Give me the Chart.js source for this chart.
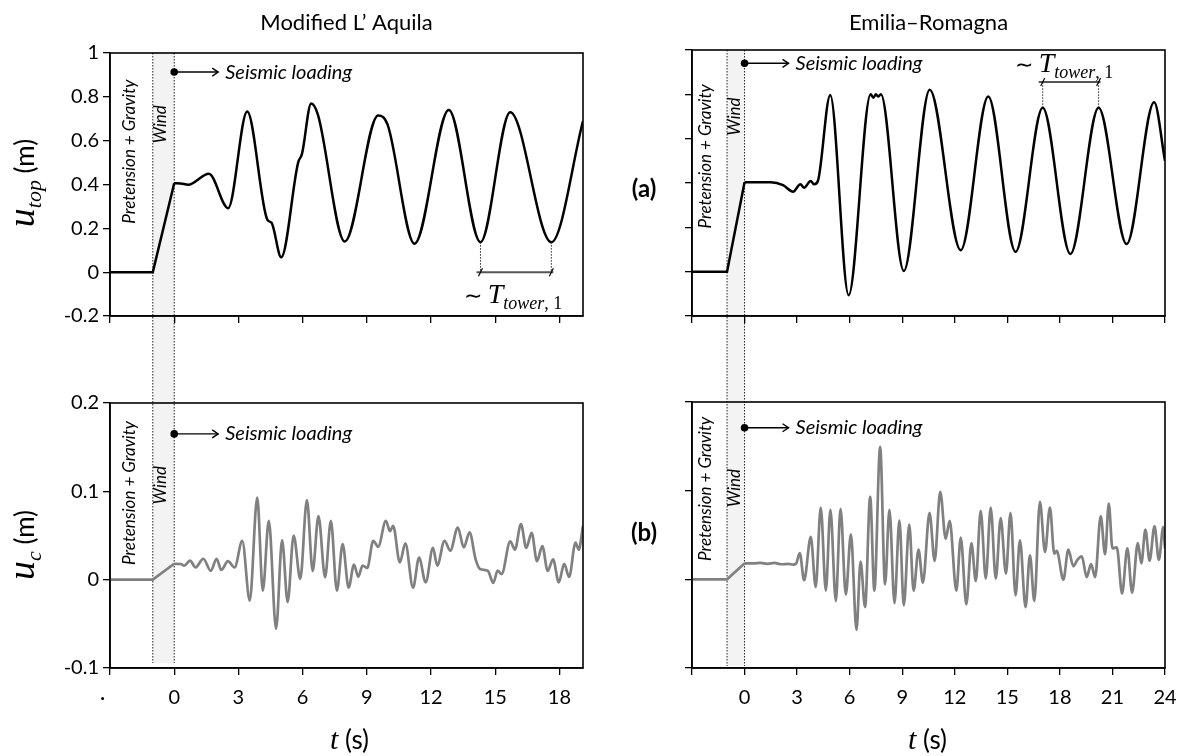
<!DOCTYPE html>
<html>
<head>
<meta charset="utf-8">
<script src="https://cdn.jsdelivr.net/npm/chart.js@4.4.1/dist/chart.umd.min.js"></script>
<style>
  html, body { margin: 0; padding: 0; background: #fff; }
  #wrap { position: relative; width: 1189px; height: 756px; }
  #wrap canvas { position: absolute; left: 0; top: 0; }
</style>
</head>
<body>
<div id="wrap">
  <canvas id="aqTop" width="1189" height="756"></canvas>
  <canvas id="erTop" width="1189" height="756"></canvas>
  <canvas id="aqCab" width="1189" height="756"></canvas>
  <canvas id="erCab" width="1189" height="756"></canvas>
</div>
<script>
// ---- data ----
// Modified L'Aquila, tower top displacement u_top (m)
const aqTopT = [-3, -1, 0, 0.3, 0.65, 1.62, 2.52, 3.41, 4.35, 4.55, 5.0, 5.79, 5.97, 6.4, 6.71, 7.97, 9.53, 9.97, 11.23, 12.83, 14.31, 15.7, 17.62, 19.1];
const aqTopU = [0, 0, 0.406, 0.405, 0.399, 0.449, 0.292, 0.733, 0.24, 0.225, 0.068, 0.5, 0.54, 0.77, 0.72, 0.14, 0.715, 0.673, 0.13, 0.74, 0.137, 0.73, 0.137, 0.69];

// Emilia-Romagna, tower top displacement u_top (m)
const erTopT = [-3, -1, 0, 1.5, 2.2, 2.77, 3.19, 3.4, 3.77, 3.98, 4.19, 4.89, 5.94, 7.2, 7.35, 7.5, 7.62, 7.78, 9.09, 10.57, 12.34, 13.91, 15.47, 17.02, 18.6, 20.21, 21.81, 23.38, 24];
const erTopU = [0, 0, 0.403, 0.403, 0.39, 0.361, 0.394, 0.379, 0.409, 0.394, 0.41, 0.797, -0.106, 0.8, 0.785, 0.8, 0.79, 0.8, 0.003, 0.821, 0.097, 0.79, 0.09, 0.739, 0.08, 0.739, 0.125, 0.764, 0.5];

// Modified L'Aquila, cable displacement u_c (m)
const aqCabT = [-3, -1, 0, 0.31, 0.47, 0.74, 1.0, 1.36, 1.71, 1.98, 2.2, 2.51, 2.82, 3.18, 3.53, 3.88, 4.14, 4.42, 4.76, 5.04, 5.3, 5.58, 5.89, 6.2, 6.47, 6.74, 7.05, 7.32, 7.6, 7.87, 8.15, 8.4, 8.6, 8.8, 9.02, 9.3, 9.53, 9.89, 10.08, 10.23, 10.54, 10.8, 11.16, 11.44, 11.75, 12.09, 12.29, 12.63, 12.9, 13.25, 13.53, 13.8, 14.08, 14.29, 14.65, 14.91, 15.11, 15.3, 15.7, 15.92, 16.2, 16.45, 16.7, 16.95, 17.2, 17.45, 17.7, 17.97, 18.22, 18.45, 18.75, 18.9, 19.1];
const aqCabU = [0, 0, 0.018, 0.0177, 0.016, 0.0215, 0.014, 0.0237, 0.010, 0.0237, 0.011, 0.021, 0.0138, 0.044, -0.0237, 0.093, -0.0124, 0.0667, -0.0557, 0.0447, -0.0252, 0.050, 0.0008, 0.090, 0.010, 0.072, 0.0027, 0.0667, -0.0124, 0.0403, -0.009, 0.017, 0.0033, 0.016, 0.0132, 0.044, 0.0373, 0.0667, 0.055, 0.061, 0.0196, 0.041, -0.009, 0.025, -0.0031, 0.036, 0.016, 0.044, 0.0328, 0.059, 0.0365, 0.0535, 0.0233, 0.0121, 0.0102, -0.0037, 0.0102, 0.0064, 0.0433, 0.034, 0.063, 0.036, 0.053, 0.021, 0.038, 0.010, 0.023, -0.003, 0.018, 0.003, 0.042, 0.034, 0.061];

// Emilia-Romagna, cable displacement u_c (m)
const erCabT = [-3, -1, 0, 0.5, 0.9, 1.3, 1.7, 2.1, 2.5, 2.77, 2.95, 3.15, 3.4, 3.78, 4.06, 4.35, 4.64, 4.9, 5.21, 5.48, 5.78, 6.07, 6.39, 6.62, 6.88, 7.17, 7.41, 7.74, 8.02, 8.27, 8.56, 8.84, 9.09, 9.4, 9.65, 9.93, 10.18, 10.56, 10.85, 11.17, 11.48, 11.71, 12.09, 12.34, 12.66, 12.95, 13.2, 13.48, 13.77, 14.05, 14.34, 14.62, 14.92, 15.18, 15.47, 15.72, 16.04, 16.29, 16.54, 16.86, 17.15, 17.43, 17.68, 17.82, 18.2, 18.48, 18.77, 19.0, 19.25, 19.53, 19.78, 20.01, 20.33, 20.58, 20.79, 21.0, 21.25, 21.55, 21.85, 22.12, 22.45, 22.65, 22.88, 23.12, 23.4, 23.65, 23.9, 24.0];
const erCabU = [0, 0, 0.018, 0.018, 0.0185, 0.0175, 0.0185, 0.017, 0.0175, 0.0165, 0.018, 0.0297, -0.001, 0.0478, -0.0087, 0.081, -0.0128, 0.0785, -0.0245, 0.0794, -0.0172, 0.0508, -0.0569, 0.02, -0.0313, 0.093, -0.0128, 0.1495, -0.0056, 0.0785, -0.0268, 0.0666, -0.0294, 0.0617, -0.0128, 0.0335, -0.0038, 0.0749, 0.0207, 0.0987, 0.0459, 0.0659, -0.0128, 0.047, -0.0282, 0.041, -0.0019, 0.0772, 0.0008, 0.081, 0.0008, 0.069, 0.0064, 0.0749, -0.018, 0.0441, -0.0314, 0.0271, -0.0245, 0.0874, 0.0309, 0.081, 0.029, 0.032, -0.0004, 0.0335, 0.0147, 0.022, 0.0259, 0.0026, 0.0171, 0.0026, 0.0712, 0.0283, 0.0855, 0.035, 0.036, -0.016, 0.035, -0.015, 0.041, 0.018, 0.056, 0.021, 0.060, 0.022, 0.059, 0.035];

// loading stages: pretension+gravity up to -1 s, wind from -1 to 0 s, then the earthquake
const stageT = [-1, 0];

// ticks
const topYTicks = [-0.2, 0, 0.2, 0.4, 0.6, 0.8, 1];
const topYLabels = ['-0.2', '0', '0.2', '0.4', '0.6', '0.8', '1'];
const cabYTicks = [-0.1, 0, 0.1, 0.2];
const cabYLabels = ['-0.1', '0', '0.1', '0.2'];
const aqXTicks = [-3, 0, 3, 6, 9, 12, 15, 18];
const aqXLabels = ['\u00b7\u2003', '0', '3', '6', '9', '12', '15', '18'];
const erXTicks = [-3, 0, 3, 6, 9, 12, 15, 18, 21, 24];
const erXLabels = ['', '0', '3', '6', '9', '12', '15', '18', '21', '24'];

// ---- layout ----
const W = 1189, H = 756;
const SANS = 'Lato';
const SERIF = '"Liberation Serif"';

function textRuns(ctx, x, y, parts, rot, align) {
  ctx.save();
  ctx.translate(x, y);
  ctx.rotate(rot || 0);
  let total = 0;
  parts.forEach(p => { ctx.font = p.font; p.w = ctx.measureText(p.text).width; total += p.w; });
  let cx = align === 'left' ? 0 : -total / 2;
  ctx.textAlign = 'left';
  ctx.textBaseline = 'alphabetic';
  parts.forEach(p => { ctx.font = p.font; ctx.fillText(p.text, cx, p.dy || 0); cx += p.w; });
  ctx.restore();
}

function label(ctx, text, x, y, font, rot) {
  ctx.save();
  ctx.translate(x, y);
  ctx.rotate(rot || 0);
  ctx.font = font;
  ctx.textAlign = 'center';
  ctx.textBaseline = 'middle';
  ctx.fillText(text, 0, 0);
  ctx.restore();
}

function decor(o) {
  return {
    id: 'decor',
    beforeDraw(chart) {
      if (!o.bandTo) return;
      const { ctx, chartArea: a, scales: { x: xs } } = chart;
      const xa = xs.getPixelForValue(stageT[0]), xb = xs.getPixelForValue(stageT[1]);
      ctx.save();
      ctx.fillStyle = '#f3f3f3';
      ctx.fillRect(xa, a.top, xb - xa, o.bandTo - a.top);
      ctx.strokeStyle = '#222';
      ctx.lineWidth = 1;
      ctx.setLineDash([1.5, 1.5]);
      [xa, xb].forEach(px => {
        ctx.beginPath(); ctx.moveTo(px, a.top); ctx.lineTo(px, o.bandTo); ctx.stroke();
      });
      ctx.restore();
    },
    afterDraw(chart) {
      const { ctx, chartArea: a, scales: { x: xs, y: ys } } = chart;
      ctx.save();
      // frame
      ctx.strokeStyle = '#000';
      ctx.lineWidth = 1.6;
      ctx.strokeRect(a.left, a.top, a.right - a.left, a.bottom - a.top);
      ctx.fillStyle = '#000';

      // stage labels
      label(ctx, 'Pretension + Gravity', xs.getPixelForValue(o.preT), ys.getPixelForValue(o.preV), 'italic 17px ' + SANS, -Math.PI / 2);
      label(ctx, 'Wind', xs.getPixelForValue(o.windT), ys.getPixelForValue(o.windV), 'italic 17px ' + SANS, -Math.PI / 2);

      // seismic loading marker
      const dx = xs.getPixelForValue(0), dy = ys.getPixelForValue(o.seisV);
      ctx.beginPath(); ctx.arc(dx, dy, 3.8, 0, Math.PI * 2); ctx.fill();
      ctx.strokeStyle = '#000'; ctx.lineWidth = 1.4;
      ctx.beginPath(); ctx.moveTo(dx, dy); ctx.lineTo(dx + 44, dy); ctx.stroke();
      ctx.beginPath(); ctx.moveTo(dx + 38, dy - 4); ctx.lineTo(dx + 44, dy); ctx.lineTo(dx + 38, dy + 4); ctx.stroke();
      ctx.font = 'italic 20px ' + SANS;
      ctx.textAlign = 'left'; ctx.textBaseline = 'middle';
      ctx.fillText('Seismic loading', dx + 51, dy);

      // period annotation
      if (o.period) {
        const p = o.period;
        const xa = xs.getPixelForValue(p.tA), xb = xs.getPixelForValue(p.tB);
        const yf = ys.getPixelForValue(p.vFrom), yb = ys.getPixelForValue(p.vBar);
        ctx.strokeStyle = '#222'; ctx.lineWidth = 1; ctx.setLineDash([1.5, 1.5]);
        [xa, xb].forEach(px => { ctx.beginPath(); ctx.moveTo(px, yf); ctx.lineTo(px, yb); ctx.stroke(); });
        ctx.setLineDash([]);
        ctx.strokeStyle = '#555'; ctx.lineWidth = 2;
        ctx.beginPath(); ctx.moveTo(xa - 4, yb); ctx.lineTo(xb + 2, yb); ctx.stroke();
        ctx.lineWidth = 1.2; ctx.strokeStyle = '#000';
        [xa, xb].forEach(px => { ctx.beginPath(); ctx.moveTo(px - 2, yb + 4); ctx.lineTo(px + 2, yb - 4); ctx.stroke(); });
        textRuns(ctx, xs.getPixelForValue(p.textT), ys.getPixelForValue(p.textV), [
          { text: '\u223c ', font: '22px ' + SERIF },
          { text: 'T', font: 'italic 28px ' + SERIF },
          { text: 'tower', font: 'italic 18px ' + SERIF, dy: 6 },
          { text: ', 1', font: '18px ' + SERIF, dy: 6 }
        ], 0, 'left');
      }

      // column title
      if (o.title) label(ctx, o.title, (a.left + a.right) / 2, 23, '22px ' + SANS);
      // row tag
      if (o.tag) label(ctx, o.tag, a.left - 48, o.tagY, 'bold 24px ' + SANS);
      // y-axis title
      if (o.ySub) {
        textRuns(ctx, 34, o.yTitleY, [
          { text: 'u', font: 'italic 38px ' + SERIF },
          { text: o.ySub, font: 'italic 22px ' + SERIF, dy: 7 },
          { text: ' (m)', font: '26px ' + SANS }
        ], -Math.PI / 2, 'center');
      }
      // x-axis title
      if (o.xTitle) {
        textRuns(ctx, (a.left + a.right) / 2 + o.xTitleShift, 749, [
          { text: 't', font: 'italic 30px ' + SERIF },
          { text: ' (s)', font: '26px ' + SANS }
        ], 0, 'center');
      }
      ctx.restore();
    }
  };
}

function makePanel(o) {
  const ramp = [], quake = [];
  o.t.forEach((t, i) => {
    if (t <= stageT[1]) ramp.push({ x: t, y: o.u[i] });
    if (t >= stageT[1]) quake.push({ x: t, y: o.u[i] });
  });
  const yw = 60, xh = 60;
  return new Chart(document.getElementById(o.id), {
    type: 'line',
    data: {
      datasets: [
        { data: ramp, borderColor: o.color, borderWidth: o.lw, pointRadius: 0, tension: 0 },
        { data: quake, borderColor: o.color, borderWidth: o.lw, pointRadius: 0, cubicInterpolationMode: 'monotone' }
      ]
    },
    options: {
      responsive: false,
      animation: false,
      events: [],
      layout: { padding: { left: o.x0 - yw, right: W - o.x1, top: o.y0, bottom: H - o.y1 - xh } },
      scales: {
        x: {
          type: 'linear', min: o.xTicks[0], max: o.xMax,
          afterFit: s => { s.height = xh; },
          afterBuildTicks: s => { s.ticks = o.xTicks.map(v => ({ value: v })); },
          grid: { drawOnChartArea: false, drawTicks: true, tickLength: 7, color: '#000', lineWidth: 1.3 },
          border: { display: true, color: '#000', width: 1.6 },
          ticks: {
            display: !!o.xLabels, padding: 11, color: '#000', autoSkip: false, maxRotation: 0,
            font: { family: SANS, size: 20 },
            callback: (v, i) => (o.xLabels ? o.xLabels[i] : '')
          }
        },
        y: {
          min: o.yTicks[0], max: o.yTicks[o.yTicks.length - 1],
          afterFit: s => { s.width = yw; },
          afterBuildTicks: s => { s.ticks = o.yTicks.map(v => ({ value: v })); },
          grid: { drawOnChartArea: false, drawTicks: true, tickLength: 7, color: '#000', lineWidth: 1.3 },
          border: { display: true, color: '#000', width: 1.6 },
          ticks: {
            display: !!o.yLabels, padding: 4, color: '#000', autoSkip: false,
            font: { family: SANS, size: 20 },
            callback: (v, i) => (o.yLabels ? o.yLabels[i] : '')
          }
        }
      },
      plugins: { legend: { display: false }, tooltip: { enabled: false } }
    },
    plugins: [decor(o)]
  });
}

// top row: u_top
makePanel({
  id: 'aqTop', t: aqTopT, u: aqTopU, color: '#000', lw: 2.5,
  x0: 110, x1: 583, y0: 53, y1: 316, xMax: 19.1,
  xTicks: aqXTicks, yTicks: topYTicks, yLabels: topYLabels,
  bandTo: 663, title: 'Modified L\u2019 Aquila', ySub: 'top', yTitleY: 183,
  preT: -2.1, preV: 0.55, windT: -0.65, windV: 0.675, seisV: 0.913,
  period: { tA: 14.31, tB: 17.62, vFrom: 0.137, vBar: 0, textT: 13.55, textV: -0.14 }
});
makePanel({
  id: 'erTop', t: erTopT, u: erTopU, color: '#000', lw: 2.5,
  x0: 692, x1: 1165, y0: 50, y1: 316, xMax: 24,
  xTicks: erXTicks, yTicks: topYTicks,
  bandTo: 666, title: 'Emilia\u2013Romagna', tag: '(a)', tagY: 189,
  preT: -2.2, preV: 0.52, windT: -0.6, windV: 0.7, seisV: 0.94,
  period: { tA: 17.02, tB: 20.21, vFrom: 0.739, vBar: 0.856, textT: 15.45, textV: 0.9 }
});
// bottom row: u_c
makePanel({
  id: 'aqCab', t: aqCabT, u: aqCabU, color: '#808080', lw: 2.7,
  x0: 110, x1: 583, y0: 403, y1: 668, xMax: 19.1,
  xTicks: aqXTicks, xLabels: aqXLabels, yTicks: cabYTicks, yLabels: cabYLabels,
  ySub: 'c', yTitleY: 545, xTitle: true, xTitleShift: 3,
  preT: -2.1, preV: 0.098, windT: -0.65, windV: 0.107, seisV: 0.165
});
makePanel({
  id: 'erCab', t: erCabT, u: erCabU, color: '#808080', lw: 2.7,
  x0: 692, x1: 1165, y0: 402, y1: 668, xMax: 24,
  xTicks: erXTicks, xLabels: erXLabels, yTicks: cabYTicks,
  tag: '(b)', tagY: 533, xTitle: true, xTitleShift: -1,
  preT: -2.2, preV: 0.102, windT: -0.6, windV: 0.103, seisV: 0.171
});
</script>
</body>
</html>
